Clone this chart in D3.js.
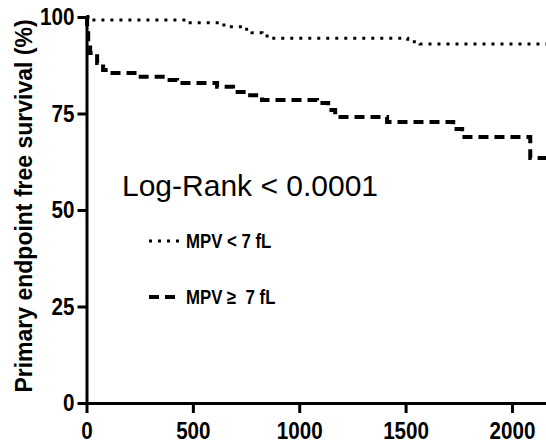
<!DOCTYPE html>
<html>
<head>
<meta charset="utf-8">
<script src="https://cdn.jsdelivr.net/npm/d3@7.9.0/dist/d3.min.js"></script>
<style>
  body { margin: 0; background: #fff; }
  svg { display: block; }
  .tick text, .leg { font-family: "Liberation Sans", Arial, sans-serif; font-weight: bold; }
</style>
</head>
<body>
<svg width="546" height="447"></svg>
<script>
// MPV < 7 fL (dotted)
const lowDays = [0, 20, 470, 626, 660, 745, 778, 825, 863, 1510, 1568, 2160];
const lowSurv = [100, 99.2, 98.5, 97.9, 97.5, 96.8, 95.9, 95.1, 94.5, 93.6, 93.0, 93.0];

// MPV >= 7 fL (dashed)
const highDays = [0, 3, 8, 17, 50, 78, 110, 242, 379, 426, 614, 689, 755, 825, 1084, 1136, 1169, 1413, 1724, 1766, 2086, 2160];
const highSurv = [100, 97, 93, 90.7, 88.1, 86.3, 85.5, 84.5, 83.7, 82.9, 81.9, 80.6, 79.7, 78.5, 77.7, 75.9, 74.1, 72.8, 71.0, 68.9, 63.5, 63.5];

const xTicks = [0, 500, 1000, 1500, 2000];
const yTicks = [0, 25, 50, 75, 100];

const svg = d3.select('svg');
const x = d3.scaleLinear().domain([0, 2160]).range([86.5, 546]);
const y = d3.scaleLinear().domain([0, 100]).range([403, 17]);

const line = d3.line()
  .x((d) => x(d[0]))
  .y((d) => y(d[1]))
  .curve(d3.curveStepAfter);

// axes
const xAxis = svg.append('g')
  .attr('transform', `translate(0,${y(0)})`)
  .call(d3.axisBottom(x).tickValues(xTicks).tickFormat(d3.format('d'))
    .tickSize(10).tickPadding(9).tickSizeOuter(0));
const yAxis = svg.append('g')
  .attr('transform', `translate(${x(0)},0)`)
  .call(d3.axisLeft(y).tickValues(yTicks).tickFormat(d3.format('d'))
    .tickSize(9).tickPadding(5).tickSizeOuter(0));

[xAxis, yAxis].forEach((g) => {
  g.select('.domain').attr('stroke-width', 3).attr('stroke', '#000');
  g.selectAll('.tick line').attr('stroke-width', 3).attr('stroke', '#000');
  g.selectAll('.tick text')
    .attr('font-size', 24)
    .attr('fill', '#000')
    .attr('transform', 'scale(0.86,1)'); // narrow look
});

// survival curves
svg.append('path')
  .datum(lowDays.map((d, i) => [d, lowSurv[i]]))
  .attr('d', line)
  .attr('fill', 'none')
  .attr('stroke', '#000')
  .attr('stroke-width', 3)
  .attr('stroke-dasharray', '3,6');

svg.append('path')
  .datum(highDays.map((d, i) => [d, highSurv[i]]))
  .attr('d', line)
  .attr('fill', 'none')
  .attr('stroke', '#000')
  .attr('stroke-width', 4)
  .attr('stroke-dasharray', '10,6');

// y axis title
svg.append('text')
  .attr('transform', 'translate(32,206) rotate(-90)')
  .attr('text-anchor', 'middle')
  .attr('font-family', 'Liberation Sans, Arial, sans-serif')
  .attr('font-weight', 'bold')
  .attr('font-size', 23)
  .text('Primary endpoint free survival (%)');

// log-rank annotation
svg.append('text')
  .attr('x', 122)
  .attr('y', 196)
  .attr('font-family', 'Liberation Sans, Arial, sans-serif')
  .attr('font-size', 30)
  .text('Log-Rank < 0.0001');

// legend
const legend = [
  { label: 'MPV < 7 fL', dash: '3,6', width: 3, y: 241 },
  { label: 'MPV \u2265  7 fL', dash: '10,6', width: 4, y: 297 }
];
legend.forEach((d) => {
  svg.append('line')
    .attr('x1', 149).attr('x2', 180)
    .attr('y1', d.y).attr('y2', d.y)
    .attr('stroke', '#000')
    .attr('stroke-width', d.width)
    .attr('stroke-dasharray', d.dash);
  svg.append('text')
    .attr('class', 'leg')
    .attr('transform', `translate(186,${d.y + 7}) scale(0.84,1)`)
    .attr('font-size', 20)
    .style('white-space', 'pre')
    .text(d.label);
});
</script>
</body>
</html>
